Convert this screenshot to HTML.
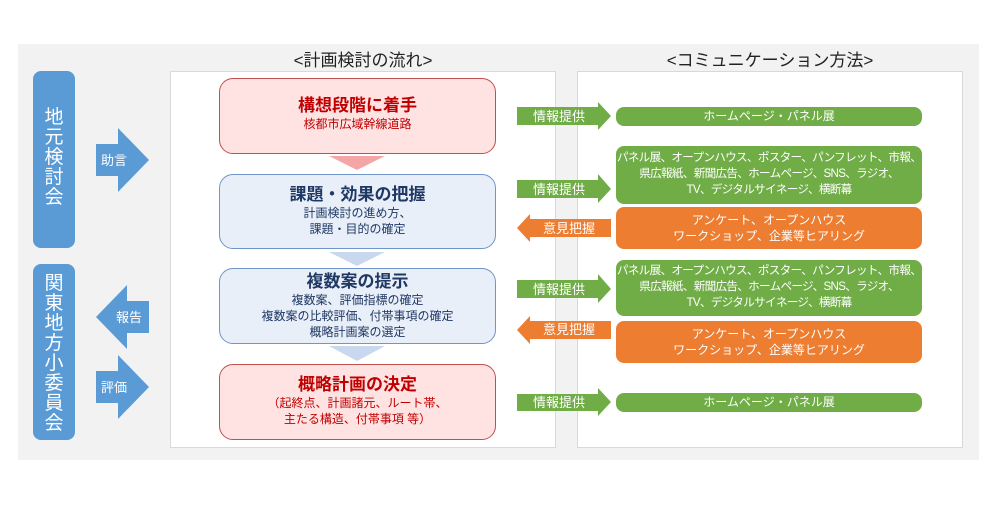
<!DOCTYPE html>
<html><head><meta charset="utf-8"><style>
body{margin:0;width:1005px;height:505px;background:#fff;position:relative;overflow:hidden;font-family:"Liberation Sans","Noto Sans CJK JP",sans-serif;}
div{position:absolute;box-sizing:border-box;}
.t{text-align:center;white-space:nowrap;}
.bar{background:#5B9BD5;border-radius:8px;color:#fff;font-size:19px;line-height:20px;width:42px;left:33px;text-align:center;}
.box{left:219px;width:277px;border-radius:14px;text-align:center;white-space:nowrap;}
.red{background:#FFE3E3;border:1.5px solid #C0504D;color:#C00000;}
.blu{background:#E9EFF9;border:1.5px solid #6F95C9;color:#1F3864;}
.h{font-weight:bold;font-size:17px;line-height:20px;}
.s{font-size:12px;line-height:16px;}
.g{background:#70AD47;color:#fff;left:616px;width:306px;border-radius:8px;text-align:center;font-size:12px;white-space:nowrap;}
.g2{font-size:11.6px;letter-spacing:-0.7px;}
.o{background:#ED7D31;color:#fff;left:616px;width:306px;border-radius:8px;text-align:center;font-size:12px;line-height:16px;white-space:nowrap;}
</style></head><body>
<div style="left:18px;top:44px;width:961px;height:416px;background:#F2F2F2"></div>
<div style="left:170px;top:71px;width:386px;height:377px;background:#fff;border:1px solid #D9D9D9"></div>
<div style="left:577px;top:71px;width:386px;height:377px;background:#fff;border:1px solid #D9D9D9"></div>
<div class="t" style="left:170px;top:46px;width:386px;font-size:17px;color:#222">&lt;計画検討の流れ&gt;</div>
<div class="t" style="left:577px;top:46px;width:386px;font-size:17px;color:#222">&lt;コミュニケーション方法&gt;</div>

<div class="bar" style="top:71px;height:177px;padding-top:37px">地<br>元<br>検<br>討<br>会</div>
<div class="bar" style="top:264px;height:176px;padding-top:10px">関<br>東<br>地<br>方<br>小<br>委<br>員<br>会</div>

<svg style="position:absolute;left:0;top:0" width="1005" height="505">
<g fill="#5B9BD5">
<polygon points="96,144 118,144 118,128 149,160 118,192 118,176 96,176"/>
<polygon points="149,301 127,301 127,285 96,317 127,349 127,333 149,333"/>
<polygon points="96,371 118,371 118,355 149,387 118,419 118,403 96,403"/>
</g>
<polygon points="329,156 385,156 357,170" fill="#F4A6A6"/>
<polygon points="329,252 385,252 357,266" fill="#C9D8EF"/>
<polygon points="329,346 385,346 357,361" fill="#C9D8EF"/>
<g fill="#70AD47">
<polygon points="517,107 598,107 598,102 611,116 598,130 598,125 517,125"/>
<polygon points="517,180 598,180 598,174 611,189 598,203 598,198 517,198"/>
<polygon points="517,280 598,280 598,274 611,289 598,303 598,298 517,298"/>
<polygon points="517,394 598,394 598,388 611,402 598,416 598,411 517,411"/>
</g>
<g fill="#ED7D31">
<polygon points="611,219 530,219 530,214 517,228 530,242 530,237 611,237"/>
<polygon points="611,321 530,321 530,316 517,330 530,344 530,339 611,339"/>
</g>
<g fill="#fff" font-size="13" font-family="Liberation Sans,Noto Sans CJK JP,sans-serif">
<text x="101" y="165">助言</text>
<text x="116" y="322">報告</text>
<text x="101" y="392">評価</text>
<text x="533" y="121">情報提供</text>
<text x="533" y="194">情報提供</text>
<text x="543" y="233">意見把握</text>
<text x="533" y="294">情報提供</text>
<text x="543" y="334">意見把握</text>
<text x="533" y="407">情報提供</text>
</g>
</svg>

<div class="box red" style="top:78px;height:76px;padding-top:17px"><div class="h" style="position:static">構想段階に着手</div><div class="s" style="position:static">核都市広域幹線道路</div></div>
<div class="box blu" style="top:174px;height:75px;padding-top:10px"><div class="h" style="position:static">課題・効果の把握</div><div class="s" style="position:static">計画検討の進め方、<br>課題・目的の確定</div></div>
<div class="box blu" style="top:268px;height:76px;padding-top:3px"><div class="h" style="position:static">複数案の提示</div><div class="s" style="position:static">複数案、評価指標の確定<br>複数案の比較評価、付帯事項の確定<br>概略計画案の選定</div></div>
<div class="box red" style="top:364px;height:76px;padding-top:10px"><div class="h" style="position:static">概略計画の決定</div><div class="s" style="position:static">（起終点、計画諸元、ルート帯、<br>主たる構造、付帯事項 等）</div></div>

<div class="g" style="top:107px;height:19px;line-height:19px">ホームページ・パネル展</div>
<div class="g g2" style="top:146px;height:58px;line-height:16px;padding-top:4px">パネル展、オープンハウス、ポスター、パンフレット、市報、<br>県広報紙、新聞広告、ホームページ、SNS、ラジオ、<br>TV、デジタルサイネージ、横断幕</div>
<div class="o" style="top:207px;height:42px;padding-top:5px">アンケート、オープンハウス<br>ワークショップ、企業等ヒアリング</div>
<div class="g g2" style="top:260px;height:56px;line-height:16px;padding-top:3px">パネル展、オープンハウス、ポスター、パンフレット、市報、<br>県広報紙、新聞広告、ホームページ、SNS、ラジオ、<br>TV、デジタルサイネージ、横断幕</div>
<div class="o" style="top:321px;height:42px;padding-top:5px">アンケート、オープンハウス<br>ワークショップ、企業等ヒアリング</div>
<div class="g" style="top:393px;height:19px;line-height:19px">ホームページ・パネル展</div>
</body></html>
